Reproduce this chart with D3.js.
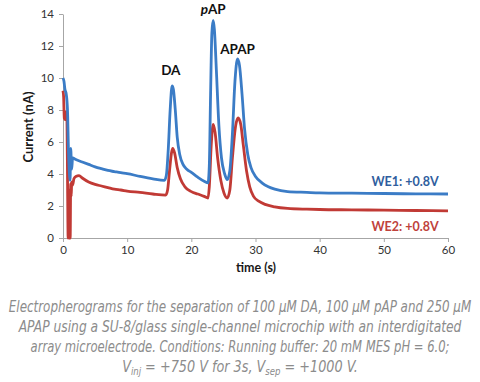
<!DOCTYPE html>
<html><head><meta charset="utf-8">
<script src="https://cdn.jsdelivr.net/npm/d3@7"></script>
<style>
html,body{margin:0;padding:0;background:#fff;}
svg{display:block;}
</style></head>
<body>
<script>
// ---- data ----
const xTicks = [0,10,20,30,40,50,60];
const yTicks = [0,2,4,6,8,10,12,14];
const we1Time = [0,0.15,0.3,0.5,0.7,0.85,1.0,1.1,1.2,1.35,1.5,2,3,4,5,6,7,8,9,10,12,14,15.8,16.1,16.4,16.7,17.0,17.2,17.5,17.8,18.2,18.7,19.3,20,21,22,22.6,22.8,23.0,23.2,23.4,23.6,23.9,24.3,24.7,25.2,25.6,26.0,26.4,26.8,27.2,27.5,27.9,28.3,28.8,29.3,30,31,32,33,35,38,40,45,50,55,60];
const we1Current = [10.0,9.8,9.3,9.0,8.0,5.5,4.0,3.6,5.6,4.3,5.0,4.9,4.75,4.6,4.45,4.33,4.22,4.15,4.08,4.02,3.85,3.7,3.6,3.9,5.5,8.0,9.5,9.3,8.0,6.3,5.2,4.6,4.3,4.1,3.8,3.55,3.45,4.5,9.0,12.8,13.6,13.0,10.5,7.0,5.0,4.0,3.65,4.2,6.5,9.8,11.2,10.8,9.0,6.8,5.2,4.4,3.85,3.45,3.2,3.05,2.9,2.85,2.82,2.8,2.78,2.76,2.75];
const we2Time = [0,0.1,0.2,0.35,0.5,0.62,0.72,0.8,0.88,0.96,1.04,1.12,1.2,1.28,1.36,1.5,1.7,2.0,2.5,3,4,5,6,7,8,9,10,12,14,16,16.3,16.6,16.9,17.1,17.4,17.8,18.3,19,20,21,22,22.6,22.8,23.1,23.4,23.7,24.1,24.6,25.1,25.6,26.0,26.4,26.9,27.3,27.7,28.1,28.6,29.1,29.7,30.5,31.5,33,35,38,40,45,50,55,60];
const we2Current = [9.2,8.8,7.5,7.4,7.9,7.3,3.0,0,2.5,0,3.0,0,3.4,2.6,3.5,3.3,3.7,3.85,3.9,3.75,3.5,3.35,3.25,3.15,3.05,3.0,2.93,2.85,2.75,2.68,3.0,4.2,5.3,5.6,5.3,4.4,3.7,3.2,2.9,2.75,2.6,2.5,3.2,5.8,7.1,6.6,5.0,3.6,2.8,2.5,3.0,5.0,7.0,7.5,7.1,5.8,4.2,3.2,2.6,2.3,2.1,1.95,1.85,1.8,1.78,1.76,1.74,1.72,1.7];
const peakLabels = ["DA","pAP","APAP"];
const peakTimes = [16.8,23.4,27.2];
const peakHeights = [10.2,14.0,11.5];
const seriesNames = ["WE1: +0.8V","WE2: +0.8V"];
const captionLines = [
  "Electropherograms for the separation of 100 μM DA, 100 μM pAP and 250 μM",
  "APAP using a SU-8/glass single-channel microchip with an interdigitated",
  "array microelectrode. Conditions: Running buffer: 20 mM MES pH = 6.0;"
];

// ---- layout ----
const W = 480, H = 382;
const svg = d3.select("body").append("svg").attr("width", W).attr("height", H);
const x = d3.scaleLinear().domain([0,60]).range([63,448]);
const y = d3.scaleLinear().domain([0,14]).range([238,14]);
const axisColor = "#a6a6a6";
const tickFont = "Lato, 'Open Sans', sans-serif";

// axes
const gx = svg.append("g").attr("transform", `translate(0,${y(0)})`)
  .call(d3.axisBottom(x).tickValues(xTicks).tickSize(4).tickPadding(4).tickSizeOuter(0));
const gy = svg.append("g").attr("transform", `translate(${x(0)},0)`)
  .call(d3.axisLeft(y).tickValues(yTicks).tickSize(4).tickPadding(5).tickSizeOuter(0));
[gx, gy].forEach(g => {
  g.select(".domain").attr("stroke", axisColor);
  g.selectAll(".tick line").attr("stroke", axisColor);
  g.selectAll(".tick text").attr("fill", "#333").attr("font-family", tickFont).attr("font-size", 11.5);
});

svg.append("text").attr("x", 256).attr("y", 272).attr("text-anchor","middle")
  .attr("font-family", tickFont).attr("font-weight","bold").attr("font-size", 12.5).attr("fill","#1a1a1a")
  .text("time (s)");
svg.append("text").attr("transform","translate(33,127) rotate(-90)").attr("text-anchor","middle")
  .attr("font-family", tickFont).attr("font-weight","bold").attr("font-size", 13).attr("fill","#1a1a1a")
  .text("Current (nA)");

// traces
const line = d3.line().x(d => x(d[0])).y(d => y(d[1])).curve(d3.curveMonotoneX);
const we2 = we2Time.map((t,i) => [t, we2Current[i]]);
const we1 = we1Time.map((t,i) => [t, we1Current[i]]);
svg.append("path").datum(we2).attr("d", line).attr("fill","none")
  .attr("stroke","#c13a35").attr("stroke-width",2.8).attr("stroke-linejoin","round");
svg.append("path").datum(we1).attr("d", line).attr("fill","none")
  .attr("stroke","#3b7cc6").attr("stroke-width",2.8).attr("stroke-linejoin","round");

// peak labels
peakLabels.forEach((lab,i) => {
  const t = svg.append("text").attr("x", x(peakTimes[i])).attr("y", y(peakHeights[i]))
    .attr("text-anchor","middle").attr("font-family", tickFont).attr("font-weight","bold")
    .attr("font-size", 13.5).attr("fill","#111");
  if (lab === "pAP") {
    t.append("tspan").attr("font-style","italic").text("p");
    t.append("tspan").text("AP");
  } else t.text(lab);
});

// series labels
svg.append("text").attr("x", 405).attr("y", 186).attr("text-anchor","middle")
  .attr("font-family", tickFont).attr("font-weight","bold").attr("font-size", 12.5).attr("fill","#2f5e9e")
  .text(seriesNames[0]);
svg.append("text").attr("x", 405).attr("y", 231).attr("text-anchor","middle")
  .attr("font-family", tickFont).attr("font-weight","bold").attr("font-size", 12.5).attr("fill","#c0423c")
  .text(seriesNames[1]);

// caption
const capFont = "'Liberation Sans Narrow', 'DejaVu Sans Condensed', sans-serif";
const capWidths = [463, 443, 419, 236];
const capBase = [312, 332, 352, 372];
function fit(t, w) {
  const len = t.node().getComputedTextLength();
  const s = w / len;
  t.attr("transform", `translate(240,0) scale(${s},1) translate(-240,0)`);
}
captionLines.forEach((c,i) => {
  const t = svg.append("text").attr("x",240).attr("y",capBase[i]).attr("text-anchor","middle")
    .attr("font-family", capFont).attr("font-style","italic").attr("font-size",15).attr("fill","#8c8c8c")
    .text(c);
  fit(t, capWidths[i]);
});
const t4 = svg.append("text").attr("x",240).attr("y",capBase[3]).attr("text-anchor","middle")
  .attr("font-family", capFont).attr("font-style","italic").attr("font-size",15).attr("fill","#8c8c8c");
t4.append("tspan").text("V");
t4.append("tspan").attr("font-size",10).attr("dy",3).text("inj");
t4.append("tspan").attr("dy",-3).text(" = +750 V for 3s, V");
t4.append("tspan").attr("font-size",10).attr("dy",3).text("sep");
t4.append("tspan").attr("dy",-3).text(" = +1000 V.");
fit(t4, capWidths[3]);
</script>
</body></html>
